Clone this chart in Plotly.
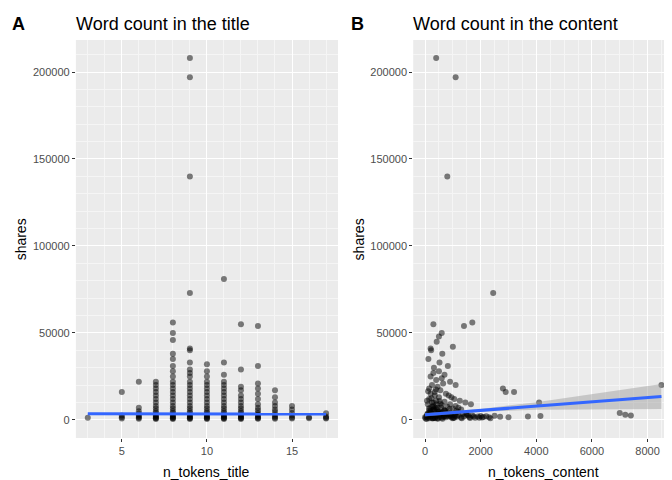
import plotly.graph_objects as go

# panel A: shares by n_tokens_title (hand-read points)
title_x = []
title_y = []
title_pts = {
    3: [1200],
    5: [800, 1500, 2500, 16000],
    6: [600, 1200, 1800, 2600, 3500, 5000, 7000, 22000],
    7: [500, 900, 1300, 1800, 2400, 3000, 4000, 5000, 6500, 8000, 10000, 12000, 14000, 16000, 18000, 20000, 22000],
    8: [500, 900, 1300, 1800, 2400, 3000, 4000, 5000, 6500, 8000, 10000, 12000, 14000, 16000, 18000, 20000, 22000, 25000, 28000, 31000, 35000, 38000, 46000, 50000, 56000],
    9: [500, 900, 1300, 1800, 2400, 3000, 4000, 5000, 6500, 8000, 10000, 12000, 14000, 16000, 18000, 20000, 22000, 25000, 27000, 29000, 33000, 40000, 41000, 73000, 140000, 197000, 208000],
    10: [500, 900, 1300, 1800, 2400, 3000, 4000, 5000, 6500, 8000, 10000, 12000, 14000, 16000, 18000, 20000, 22000, 25000, 28000, 32000],
    11: [500, 900, 1300, 1800, 2400, 3000, 4000, 5000, 6500, 8000, 10000, 12000, 14000, 16000, 18000, 20000, 22000, 26000, 33000, 81000],
    12: [500, 900, 1300, 1800, 2400, 3000, 4000, 5000, 6500, 8000, 10000, 12000, 14000, 17000, 19000, 29000, 55000],
    13: [600, 1000, 1500, 2200, 3000, 4000, 5500, 7000, 9000, 12000, 15000, 18000, 21000, 31000, 54000],
    14: [700, 1200, 2000, 3000, 4500, 6000, 8000, 10000, 13000, 17000],
    15: [800, 1400, 2500, 4000, 6000, 8000],
    16: [900, 1500],
    17: [800, 1300, 2000, 3800],
}
for k, v in title_pts.items():
    title_x += [k] * len(v)
    title_y += v
fit_a_x = [3, 17]
fit_a_y = [3600, 3400]

# panel B: shares by n_tokens_content
content_x = [0, 20, 50, 80, 100, 120, 150, 180, 200, 230, 250, 280, 300, 320, 350, 380, 400, 430, 450, 480,
             500, 530, 560, 600, 640, 680, 700, 750, 800, 850, 900, 950, 1000, 1050, 1100, 1150, 1200, 1300,
             1400, 1500, 1600, 1700, 1800, 1900, 2000, 2100, 2200, 2300, 2500, 2700, 2800, 2900, 3000, 3200,
             3700, 4100, 4150, 7000, 7200, 7400, 8500,
             100, 150, 200, 250, 300, 350, 400, 450, 500, 550, 600, 700, 800, 900, 1000, 1100, 1200, 1300,
             150, 250, 350, 450, 550, 650, 750, 850, 950, 1050, 1250, 1450, 1650,
             200, 300, 400, 500, 600, 700, 900, 1100,
             120, 220, 320, 420, 520, 620, 820,
             400, 1100, 800, 2450, 1700, 1400, 1000, 600, 300, 200, 500,
             60, 90, 140, 170, 210, 260, 290, 340, 370, 410, 460, 510, 570, 630, 690, 760, 830, 910, 990, 1070,
             70, 130, 190, 240, 310, 360, 420, 490, 580, 660, 740, 880, 1020, 1180, 1350, 1550, 1750, 1950,
             110, 160, 230, 270, 330, 390, 440, 520, 610, 720, 810, 940, 1130, 1320, 1480, 1620, 2050, 2350]
content_y = [1500, 800, 2000, 3000, 1200, 4000, 2500, 1800, 5000, 2200, 3500, 1100, 6000, 2800, 1400, 7000, 2000, 3300, 900, 4500,
             2600, 1700, 3800, 1300, 2900, 2100, 5500, 1600, 3100, 1900, 2400, 1500, 3600, 1200, 2300, 1800, 2700, 1400,
             2000, 3000, 1600, 2500, 1300, 1900, 2200, 1700, 2100, 1500, 2400, 1800, 18000, 16000, 1500, 16000,
             2000, 10000, 2200, 4000, 3000, 2500, 20000,
             9000, 12000, 15000, 10000, 8000, 14000, 11000, 7000, 13000, 9500, 8500, 10500, 7500, 9000, 6500, 8000, 7000, 6000,
             18000, 20000, 16000, 19000, 17000, 21000, 15000, 14000, 13000, 12000, 11000, 10000, 9000,
             25000, 27000, 23000, 28000, 24000, 26000, 22000, 20000,
             35000, 40000, 30000, 45000, 33000, 38000, 31000,
             208000, 197000, 140000, 73000, 56000, 54000, 42000, 50000, 55000, 41000, 48000,
             500, 3500, 6500, 900, 4200, 7500, 1100, 5200, 2600, 8800, 600, 4800, 3900, 700, 5600, 2300, 4400, 3200, 900, 2800,
             11000, 2100, 6800, 3400, 9800, 1000, 5900, 3700, 7100, 1800, 4100, 6200, 1300, 4700, 3500, 2600, 1900, 1200,
             16500, 5400, 12500, 800, 6100, 17500, 2900, 10800, 4300, 5100, 3300, 2500, 5300, 1000, 3600, 1100, 1400, 900]
fit_b_x = [0, 2000, 4000, 6000, 8500]
fit_b_y = [3000, 5500, 8000, 10500, 13500]
band_lo = [2000, 4700, 5800, 6200, 6300]
band_hi = [4000, 6300, 10200, 14800, 20700]

GRAY = "#EBEBEB"
pt = dict(color="rgba(0,0,0,0.5)", size=6, line=dict(width=0))

fig = go.Figure()
fig.add_trace(go.Scatter(x=title_x, y=title_y, mode="markers", marker=pt, xaxis="x", yaxis="y"))
fig.add_trace(go.Scatter(x=fit_a_x, y=fit_a_y, mode="lines", line=dict(color="#3366FF", width=3), xaxis="x", yaxis="y"))
fig.add_trace(go.Scatter(x=content_x, y=content_y, mode="markers", marker=pt, xaxis="x2", yaxis="y2"))
fig.add_trace(go.Scatter(x=fit_b_x + fit_b_x[::-1], y=band_hi + band_lo[::-1], fill="toself",
                         fillcolor="rgba(153,153,153,0.45)", line=dict(width=0), mode="lines", xaxis="x2", yaxis="y2"))
fig.add_trace(go.Scatter(x=fit_b_x, y=fit_b_y, mode="lines", line=dict(color="#3366FF", width=3), xaxis="x2", yaxis="y2"))

ax = dict(showgrid=True, gridcolor="white", gridwidth=1.2, zeroline=False, ticks="outside", ticklen=3,
          tickcolor="#333333", tickfont=dict(size=11, color="#4D4D4D"), minor=dict(showgrid=True, gridcolor="#F5F5F5", gridwidth=0.6))
yr = [-10400, 218400]
fig.update_layout(
    width=672, height=480, showlegend=False, plot_bgcolor=GRAY, paper_bgcolor="white",
    margin=dict(l=0, r=0, t=32, b=50),
    font=dict(family="Liberation Sans, Arial", color="black"),
    xaxis=dict(ax, domain=[0.101, 0.491], range=[2.3, 17.7], tickvals=[5, 10, 15], anchor="y"),
    yaxis=dict(ax, range=yr, tickvals=[0, 50000, 100000, 150000, 200000], tickformat="d", anchor="x"),
    xaxis2=dict(ax, domain=[0.603, 0.990], range=[-425, 8925], tickvals=[0, 2000, 4000, 6000, 8000], anchor="y2"),
    yaxis2=dict(ax, range=yr, tickvals=[0, 50000, 100000, 150000, 200000], tickformat="d", anchor="x2"),
)
ann = [
    dict(text="<b>A</b>", x=0.003, y=1.0, xref="paper", yref="paper", yanchor="bottom", yshift=4, font=dict(size=18)),
    dict(text="Word count in the title", x=0.098, y=1.0, xref="paper", yref="paper", yanchor="bottom", yshift=4, font=dict(size=18)),
    dict(text="<b>B</b>", x=0.508, y=1.0, xref="paper", yref="paper", yanchor="bottom", yshift=4, font=dict(size=18)),
    dict(text="Word count in the content", x=0.600, y=1.0, xref="paper", yref="paper", yanchor="bottom", yshift=4, font=dict(size=18)),
    dict(text="n_tokens_title", x=0.296, y=0, xref="paper", yref="paper", yanchor="top", yshift=-24, font=dict(size=14)),
    dict(text="n_tokens_content", x=0.797, y=0, xref="paper", yref="paper", yanchor="top", yshift=-24, font=dict(size=14)),
    dict(text="shares", x=0.005, y=0.5, xref="paper", yref="paper", textangle=-90, xanchor="left", font=dict(size=14)),
    dict(text="shares", x=0.508, y=0.5, xref="paper", yref="paper", textangle=-90, xanchor="left", font=dict(size=14)),
]
for a in ann:
    a.setdefault("showarrow", False)
    a.setdefault("xanchor", "left")
    if a["text"].startswith("n_"):
        a["xanchor"] = "center"
fig.update_layout(annotations=ann)
fig.write_html("out.html")
